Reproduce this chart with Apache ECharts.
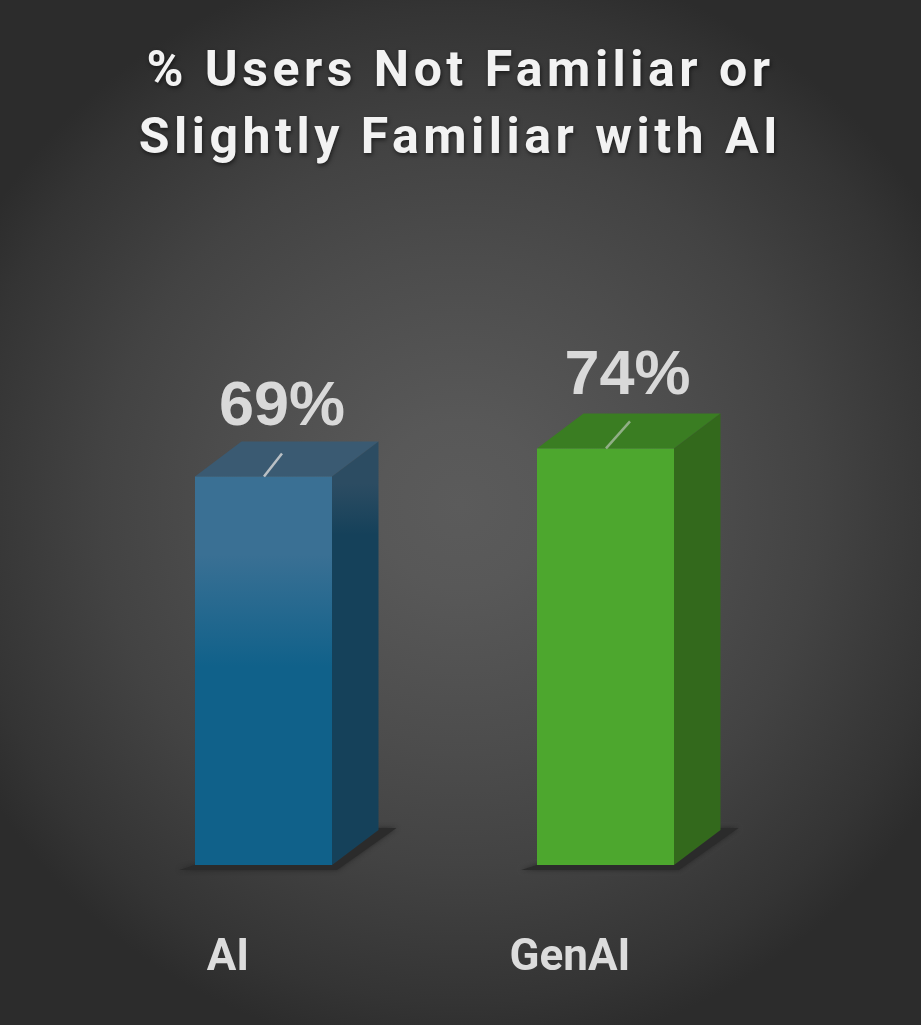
<!DOCTYPE html>
<html><head><meta charset="utf-8">
<style>html,body{margin:0;padding:0;background:#2e2e2e}#c{width:921px;height:1025px}</style>
<script src="https://cdn.jsdelivr.net/npm/echarts@6/dist/echarts.min.js"></script>
</head><body><div id="c"></div>
<script>
const categories = ['AI', 'GenAI'];
const values = [69, 74];
const frontTop = ['#3a7094', '#4da72e'];
const frontBottom = ['#10618a', '#4da72e'];
const topFace = ['#3a5a72', '#3a7d22'];
const sideTop = ['#2c4c62', '#33691c'];
const sideBottom = ['#15415a', '#33691c'];
const titleLines = '% Users Not Familiar or\nSlightly Familiar with AI';

const chart = echarts.init(document.getElementById('c'), null, {renderer: 'canvas', width: 921, height: 1025});

// Wide tracking of the title: it sits on its own canvas layer
const layer = chart.getZr().painter.getLayer(1);
if (layer && layer.ctx) layer.ctx.letterSpacing = '4.5px';

function renderItem(params, api) {
  const i = api.value(0), v = api.value(1);
  const base = api.coord([i, 0]), top = api.coord([i, v]);
  const shift = 35.5, w = 137, dx = 46.5, dy = 35;
  const x0 = base[0] + shift - w / 2, x1 = x0 + w, yT = top[1], yB = base[1];
  const poly = (pts, fill, extra) => ({type: 'polygon', shape: {points: pts}, style: Object.assign({fill: fill}, extra || {})});
  const isBlue = i === 0;
  const grad = (a, b, s1, s2) => new echarts.graphic.LinearGradient(0, 0, 0, 1, [
    {offset: 0, color: a}, {offset: s1, color: a}, {offset: s2, color: b}, {offset: 1, color: b}]);
  return {type: 'group', children: [
    poly([[x0 - 16, yB + 5], [x1 + 5, yB + 5], [x1 + dx + 18, yB - dy - 2], [x1 + dx, yB - dy - 2], [x1, yB], [x0, yB]], '#2b2b2b',
      {shadowBlur: 5, shadowColor: 'rgba(30,30,30,0.7)'}),
    poly([[x0, yT], [x0 + dx, yT - dy], [x1 + dx, yT - dy], [x1, yT]], topFace[i]),
    poly([[x1, yT], [x1 + dx, yT - dy], [x1 + dx, yB - dy], [x1, yB]], grad(sideTop[i], sideBottom[i], isBlue ? 0.1 : 0, isBlue ? 0.22 : 1)),
    {type: 'rect', shape: {x: x0, y: yT, width: w, height: yB - yT}, style: {fill: grad(frontTop[i], frontBottom[i], isBlue ? 0.2 : 0, isBlue ? 0.49 : 1)}},
    {type: 'line', shape: {x1: x0 + 69, y1: yT, x2: x0 + 69 + (isBlue ? 18 : 24), y2: yT - (isBlue ? 23 : 27)},
      style: {stroke: isBlue ? 'rgba(217,217,217,0.8)' : 'rgba(217,217,217,0.55)', lineWidth: 2.5}},
    {type: 'text', style: {text: v + '%', x: x0 + (isBlue ? 87 : 90.5), y: yT - (isBlue ? 69 : 72), align: 'center', verticalAlign: 'middle',
      fill: '#d9d9d9', font: 'bold 63px "Liberation Sans"'}}
  ]};
}

chart.setOption({
  animation: false,
  backgroundColor: new echarts.graphic.RadialGradient(0.5, 0.493, 0.6, [
    {offset: 0, color: '#5b5b5b'}, {offset: 0.15, color: '#585858'}, {offset: 0.45, color: '#4c4c4c'},
    {offset: 0.65, color: '#434343'}, {offset: 0.9, color: '#343434'}, {offset: 1, color: '#2c2c2c'}]),
  title: {text: titleLines, left: 'center', top: 35, zlevel: 1,
    textStyle: {color: '#f2f2f2', fontFamily: 'Roboto', fontWeight: 'bold', fontSize: 50, lineHeight: 67,
      textShadowColor: 'rgba(0,0,0,0.55)', textShadowBlur: 4, textShadowOffsetX: 1, textShadowOffsetY: 2}},
  grid: {left: 57, width: 684, top: 302, height: 563},
  xAxis: {type: 'category', data: categories, axisLine: {show: false}, axisTick: {show: false},
    axisLabel: {color: '#dcdcdc', fontFamily: 'Roboto', fontWeight: 'bold', fontSize: 44, margin: 72}},
  yAxis: {type: 'value', min: 0, max: 100, show: false, splitLine: {show: false}},
  series: [{type: 'custom', clip: false, renderItem: renderItem, encode: {x: 0, y: 1},
    data: values.map((v, i) => [i, v])}]
});
</script></body></html>
